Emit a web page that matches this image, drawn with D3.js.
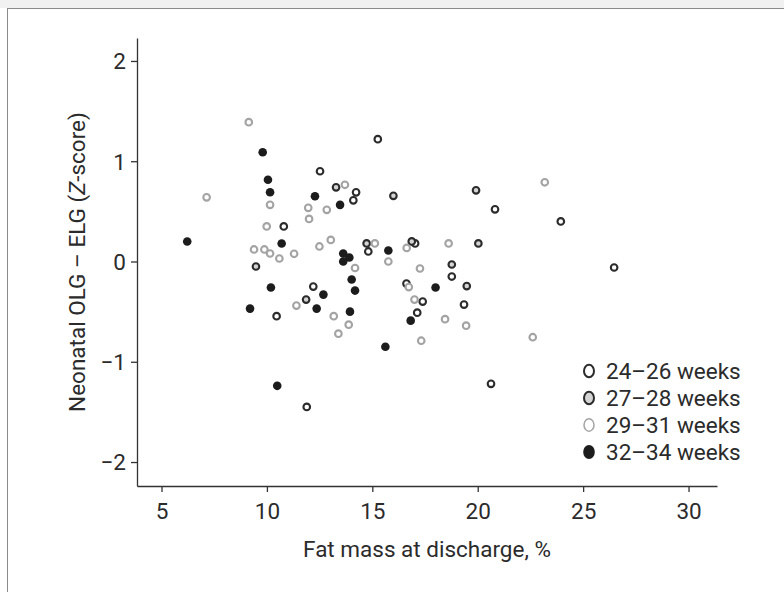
<!DOCTYPE html>
<html>
<head>
<meta charset="utf-8">
<script src="https://cdn.jsdelivr.net/npm/d3@7"></script>
<style>
  html, body { margin: 0; padding: 0; background: #fff; }
  svg { display: block; }
  text { font-family: Roboto, "Open Sans", sans-serif; fill: #2b2b2b; }
</style>
</head>
<body>
<svg id="chart" width="784" height="592"></svg>
<script>
// Gestational age groups
const groups = ["24–26 weeks", "27–28 weeks", "29–31 weeks", "32–34 weeks"];

// Fat mass at discharge (%) and OLG − ELG difference (Z-score), per group
const fat2426 = [10.80, 10.46, 11.89, 12.20, 12.52, 14.23, 14.10, 15.26, 14.81, 17.03, 16.62, 17.39, 17.13, 18.77, 19.35, 20.82, 20.63, 23.94, 26.47];
const z2426   = [0.35, -0.545, -1.45, -0.25, 0.90, 0.69, 0.61, 1.22, 0.10, 0.18, -0.22, -0.40, -0.51, -0.15, -0.43, 0.52, -1.22, 0.40, -0.06];

const fat2728 = [9.48, 11.86, 13.28, 16.00, 14.73, 16.87, 18.77, 19.48, 19.92, 20.03];
const z2728   = [-0.05, -0.38, 0.74, 0.655, 0.18, 0.20, -0.03, -0.245, 0.71, 0.18];

const fat2931 = [9.14, 7.14, 10.15, 9.99, 9.39, 9.88, 10.15, 10.59, 11.29, 11.96, 12.00, 12.84, 12.49, 13.03, 13.70, 14.18,
                 15.12, 15.76, 16.63, 17.26, 16.73, 17.00, 17.32, 18.45, 19.45, 18.62, 11.40, 13.17, 13.88, 13.39, 23.18, 22.61];
const z2931   = [1.39, 0.64, 0.565, 0.35, 0.12, 0.12, 0.08, 0.03, 0.077, 0.535, 0.425, 0.515, 0.15, 0.215, 0.765, -0.065,
                 0.18, 0.0, 0.135, -0.07, -0.255, -0.38, -0.79, -0.575, -0.64, 0.18, -0.44, -0.545, -0.63, -0.72, 0.79, -0.755];

const fat3234 = [6.22, 9.80, 10.05, 10.15, 10.70, 9.20, 10.19, 10.49, 12.28, 13.47, 12.36, 12.68, 13.62, 13.91, 13.62,
                 14.02, 14.18, 13.94, 15.62, 15.76, 18.00, 16.82];
const z3234   = [0.20, 1.09, 0.815, 0.69, 0.18, -0.47, -0.26, -1.24, 0.65, 0.565, -0.47, -0.33, 0.08, 0.04, 0.0,
                 -0.18, -0.29, -0.50, -0.85, 0.11, -0.26, -0.59];

const xTicks = [5, 10, 15, 20, 25, 30];
const yTicks = [-2, -1, 0, 1, 2];

const series = [
  { name: groups[0], fat: fat2426, z: z2426 },
  { name: groups[1], fat: fat2728, z: z2728 },
  { name: groups[2], fat: fat2931, z: z2931 },
  { name: groups[3], fat: fat3234, z: z3234 }
];

// Marker appearance per group
const markerStyle = {
  "24–26 weeks": { fill: "#ffffff", stroke: "#2b2b2b", filled: false },
  "27–28 weeks": { fill: "#d4d4d4", stroke: "#2b2b2b", filled: false },
  "29–31 weeks": { fill: "#ffffff", stroke: "#a3a3a3", filled: false },
  "32–34 weeks": { fill: "#1c1c1c", stroke: "none", filled: true }
};

const svg = d3.select("#chart");

// Window frame
svg.append("rect").attr("x", 0).attr("y", 0).attr("width", 784).attr("height", 8).attr("fill", "#f1f1f1");
svg.append("line").attr("x1", 7).attr("x2", 784).attr("y1", 8.5).attr("y2", 8.5).attr("stroke", "#8a8a8a").attr("stroke-width", 1);
svg.append("line").attr("x1", 7.5).attr("x2", 7.5).attr("y1", 8).attr("y2", 592).attr("stroke", "#8a8a8a").attr("stroke-width", 1);

const plot = { left: 137, right: 717, top: 38, bottom: 486 };

const x = d3.scaleLinear().domain([3.838, 31.35]).range([plot.left, plot.right]);
const y = d3.scaleLinear().domain([-2.239, 2.229]).range([plot.bottom, plot.top]);

const xAxis = d3.axisBottom(x).tickValues(xTicks).tickFormat(d3.format("d")).tickSize(6).tickSizeOuter(0).tickPadding(6);
const yAxis = d3.axisLeft(y).tickValues(yTicks).tickFormat(d3.format("d")).tickSize(6).tickSizeOuter(0).tickPadding(5);

const gx = svg.append("g").attr("transform", `translate(0,${plot.bottom})`).call(xAxis);
const gy = svg.append("g").attr("transform", `translate(${plot.left},0)`).call(yAxis);

[gx, gy].forEach(g => {
  g.select(".domain").attr("stroke", "#333").attr("stroke-width", 1.3);
  g.selectAll(".tick line").attr("stroke", "#333").attr("stroke-width", 1.3);
  g.selectAll(".tick text").attr("font-size", 22.5).attr("font-family", "Roboto, sans-serif").attr("fill", "#2b2b2b");
});
gx.selectAll(".tick text").attr("dy", "0.95em");
gy.selectAll(".tick text").attr("dy", "0.35em");

// Axis titles
svg.append("text")
  .attr("x", (plot.left + plot.right) / 2)
  .attr("y", 557)
  .attr("text-anchor", "middle")
  .attr("font-size", 22.5)
  .text("Fat mass at discharge, %");

const yTitle = svg.append("text")
  .attr("transform", `translate(85,${(plot.top + plot.bottom) / 2}) rotate(-90)`)
  .attr("text-anchor", "middle")
  .attr("font-size", 22.5);
yTitle.append("tspan").text("Neonatal OLG – ELG (");
yTitle.append("tspan").attr("font-style", "italic").text("Z");
yTitle.append("tspan").text("-score)");

// Points
const points = svg.append("g");
series.forEach(s => {
  const st = markerStyle[s.name];
  const data = s.fat.map((f, i) => ({ f, z: s.z[i] }));
  points.selectAll(null)
    .data(data)
    .enter()
    .append("circle")
    .attr("cx", d => x(d.f))
    .attr("cy", d => y(d.z))
    .attr("r", st.filled ? 4.3 : 3.3)
    .attr("fill", st.fill)
    .attr("stroke", st.stroke)
    .attr("stroke-width", st.filled ? 0 : 2.1);
});

// Legend
const legend = svg.append("g").attr("transform", "translate(589,371)");
groups.forEach((g, i) => {
  const st = markerStyle[g];
  const row = legend.append("g").attr("transform", `translate(0,${i * 27})`);
  row.append("ellipse")
    .attr("cx", 0).attr("cy", 0)
    .attr("rx", st.filled ? 5.8 : 5).attr("ry", st.filled ? 7 : 6.2)
    .attr("fill", st.fill)
    .attr("stroke", st.stroke)
    .attr("stroke-width", st.filled ? 0 : (g === "29–31 weeks" ? 1.5 : 2));
  row.append("text")
    .attr("x", 17).attr("y", 0).attr("dy", "0.36em")
    .attr("font-size", 22.5)
    .text(g);
});
</script>
</body>
</html>
